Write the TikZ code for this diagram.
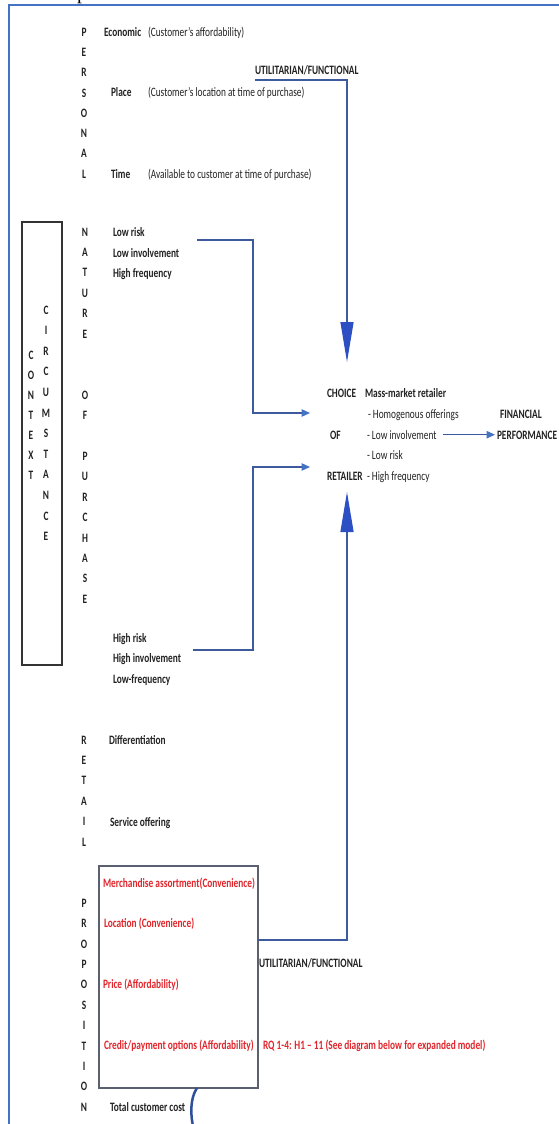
\documentclass[tikz,border=0pt]{standalone}
\usepackage{fontspec}
\setmainfont{Carlito}[FakeStretch=0.73]
\newfontfamily\serifp{Liberation Serif}
\usetikzlibrary{arrows.meta}
\definecolor{framebl}{HTML}{4472C4}
\definecolor{linkbl}{HTML}{3D5A9C}
\definecolor{headbl}{HTML}{2C4FC4}
\definecolor{redtxt}{HTML}{E0252B}
\definecolor{boxgray}{HTML}{5A6070}
\definecolor{curvebl}{HTML}{2F4F9A}
\definecolor{inkgray}{HTML}{222222}

\begin{document}
\begin{tikzpicture}[x=1pt,y=-1pt,
  every node/.style={inner sep=0pt, outer sep=0pt, text=inkgray, font=\fontsize{12.8}{14}\selectfont},
  lab/.style={anchor=base west, yshift=-4.1pt, font=\fontsize{12.8}{14}\selectfont\bfseries},
  note/.style={anchor=base west, yshift=-4.1pt},
  letter/.style={anchor=base, yshift=-4.1pt, font=\fontsize{12.8}{14}\selectfont\bfseries},
  redlab/.style={lab, text=redtxt},
  panel/.style={draw=#1, line width=1.3pt, anchor=north west},
  link/.style={draw=linkbl, line width=1.2pt},
  smallhead/.style={link, -{Triangle[length=8.5pt,width=7.5pt,fill=framebl,color=framebl]}},
  bighead/.style={link, -{Triangle[length=40pt,width=13pt,fill=headbl,color=headbl]}},
]
\useasboundingbox (0,0) rectangle (558,1124);

% outer frame and the tail of a letter from the line above it
\node[anchor=base, text=black, font=\fontsize{20}{20}\selectfont\serifp] (topglyph) at (82,0) {p};
\draw[framebl, line width=2pt] (9,1130) -- (9,5) -- (565,5);

% PERSONAL column
\foreach \c [count=\i from 0] in {P,E,R,S,O,N,A,L}
  \node[letter] (per\i) at (84,32+20.3*\i) {\c};
\node[lab] (econ) at (104,32) {Economic};
\node[note] (econnote) at (148,32) {(Customer’s affordability)};
\node[lab] (place) at (111,92) {Place};
\node[note] (placenote) at (148,92) {(Customer’s location at time of purchase)};
\node[lab] (time) at (111,174) {Time};
\node[note] (timenote) at (148,174) {(Available to customer at time of purchase)};
\node[lab] (util1) at (255,70) {UTILITARIAN/FUNCTIONAL};

% CONTEXT / CIRCUMSTANCE box
\node[panel=black!80, minimum width=40pt, minimum height=443pt] (ctxbox) at (22,222) {};
\foreach \c [count=\i from 0] in {C,O,N,T,E,X,T}
  \node[letter] (ctx\i) at (31,355+20*\i) {\c};
\foreach \c [count=\i from 0] in {C,I,R,C,U,M,S,T,A,N,C,E}
  \node[letter] (cir\i) at (46,310+20.6*\i) {\c};

% NATURE OF PURCHASE column
\foreach \c/\k in {N/0,A/1,T/2,U/3,R/4,E/5,O/8,F/9,P/11,U/12,R/13,C/14,H/15,A/16,S/17,E/18}
  \node[letter] (nat\k) at (85,232+20.4*\k) {\c};
\node[lab] (lowrisk) at (113,232) {Low risk};
\node[lab] (lowinv) at (113,253) {Low involvement};
\node[lab] (highfreq) at (113,273) {High frequency};
\node[lab] (highrisk) at (113,638) {High risk};
\node[lab] (highinv) at (113,658) {High involvement};
\node[lab] (lowfreq) at (113,679) {Low-frequency};

% RETAIL PROPOSITION column
\foreach \c/\k in {R/0,E/1,T/2,A/3,I/4,L/5,P/8,R/9,O/10,P/11,O/12,S/13,I/14,T/15,I/16,O/17,N/18}
  \node[letter] (ret\k) at (84,740+20.4*\k) {\c};
\node[lab] (diff) at (109,740) {Differentiation};
\node[lab] (serv) at (110,822) {Service offering};
\node[panel=boxgray, minimum width=159pt, minimum height=222pt] (propbox) at (99,866) {};
\node[redlab] (merch) at (103,883) {Merchandise assortment(Convenience)};
\node[redlab] (loc) at (104,923) {Location (Convenience)};
\node[redlab] (price) at (103,984) {Price (Affordability)};
\node[redlab] (credit) at (104,1045) {Credit/payment options (Affordability)};
\node[lab] (util2) at (259,963) {UTILITARIAN/FUNCTIONAL};
\node[redlab] (rq) at (263,1045) {RQ 1-4: H1 – 11 (See diagram below for expanded model)};
\node[lab] (tcc) at (110,1107) {Total customer cost};

% choice of retailer
\node[lab] (choice) at (327,393) {CHOICE};
\node[lab] (of) at (330,435) {OF};
\node[lab] (retailer) at (327,476) {RETAILER};
\node[lab] (mass) at (365,393) {Mass-market retailer};
\node[note] (homog) at (368,414) {- Homogenous offerings};
\node[note] (lowinvr) at (367,435) {- Low involvement};
\node[note] (lowriskr) at (367,455) {- Low risk};
\node[note] (highfreqr) at (367,476) {- High frequency};
\node[lab] (fin) at (500,414) {FINANCIAL};
\node[lab] (perf) at (497,435) {PERFORMANCE};

% connectors
\coordinate (utilstart) at (255,80);
\coordinate (toptip) at (347,362);
\draw[bighead] (utilstart) -| (toptip);

\coordinate (lowstart) at (197,240);
\coordinate (lowknee) at (253,413);
\coordinate (lowtip) at (310,413);
\draw[smallhead] (lowstart) -| (lowknee) -- (lowtip);

\coordinate (highstart) at (193,650);
\coordinate (highknee) at (253,467);
\coordinate (hightip) at (310,467);
\draw[smallhead] (highstart) -| (highknee) -- (hightip);

\draw[smallhead] ([xshift=6pt]lowinvr.east) -- ([xshift=-2pt]lowinvr.east -| perf.west);

\coordinate (botturn) at (347,940);
\coordinate (bottip) at (347,492);
\draw[bighead] (propbox.east |- botturn) -- (botturn) -- (bottip);

% bracket stroke under the proposition box
\coordinate (brtop) at (197,1088);
\coordinate (brbot) at (194,1130);
\draw[curvebl, line width=2.5pt] (brtop) .. controls (190,1098) and (190,1116) .. (brbot);
\end{tikzpicture}
\end{document}
